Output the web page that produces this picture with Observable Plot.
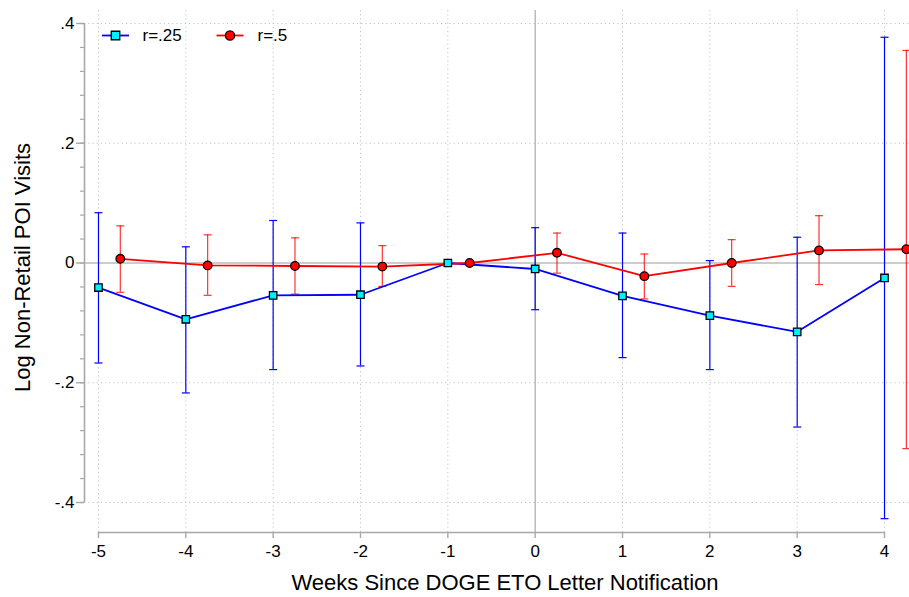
<!DOCTYPE html>
<html>
<head>
<meta charset="utf-8">
<script src="https://cdn.jsdelivr.net/npm/d3@7"></script>
<script src="https://cdn.jsdelivr.net/npm/@observablehq/plot@0.6"></script>
<style>
  body { margin: 0; background: #fff; }
  #chart { width: 909px; height: 597px; }
</style>
</head>
<body>
<div id="chart"></div>
<script>
// ---- data ----
const weeks = [-5, -4, -3, -2, -1, 0, 1, 2, 3, 4];
const r25   = [-0.041, -0.094, -0.054, -0.053, 0, -0.010, -0.055, -0.088, -0.115, -0.025];
const r25Lo = [-0.167, -0.217, -0.178, -0.172, null, -0.078, -0.158, -0.178, -0.274, -0.427];
const r25Hi = [0.084, 0.027, 0.071, 0.067, null, 0.059, 0.050, 0.004, 0.043, 0.377];
const r5    = [0.007, -0.004, -0.005, -0.006, 0, 0.017, -0.022, 0.000, 0.021, 0.023];
const r5Lo  = [-0.049, -0.054, -0.052, -0.039, null, -0.017, -0.060, -0.039, -0.036, -0.310];
const r5Hi  = [0.062, 0.047, 0.042, 0.029, null, 0.050, 0.015, 0.039, 0.079, 0.355];
const seriesNames = ["r=.25", "r=.5"];
const yTicks = [0.4, 0.2, 0, -0.2, -0.4];
const yTickLabels = [".4", ".2", "0", "-.2", "-.4"];
const yMinorTicks = d3.range(-0.4, 0.4001, 0.04).map(v => +v.toFixed(2));
const xTitle = "Weeks Since DOGE ETO Letter Notification";
const yTitle = "Log Non-Retail POI Visits";

// ---- layout / style ----
const redShift = 0.25;
const xDomain = [-5.16, 4.286];
const yDomain = [-0.4501, 0.4217];
const BLUE = "#0000ff", RED = "#ff0000", CYAN = "#00f0ff";
const AXIS = "#a8a8a8", GRID = "#c4c4c4";
const FONT = "'Liberation Sans', Arial, Helvetica, sans-serif";

const blue = weeks.map((w, i) => ({x: w, y: r25[i], lo: r25Lo[i], hi: r25Hi[i]}));
const red  = weeks.map((w, i) => ({x: w + redShift, y: r5[i], lo: r5Lo[i], hi: r5Hi[i]}));
const blueCI = blue.filter(d => d.lo != null);
const redCI  = red.filter(d => d.lo != null);

// horizontal segment symbol (for caps and legend lines)
const hSeg = w => ({draw(ctx) { ctx.moveTo(-w / 2, 0); ctx.lineTo(w / 2, 0); }});

const yFmt = d => yTickLabels[yTicks.indexOf(d)];

const chart = Plot.plot({
  width: 909, height: 597,
  marginLeft: 84, marginRight: 0, marginTop: 10, marginBottom: 65,
  style: {fontFamily: FONT, fontSize: "17px", background: "#fff", color: "#000", overflow: "visible"},
  x: {domain: xDomain},
  y: {domain: yDomain},
  marks: [
    // grid
    Plot.ruleY(yTicks.filter(v => v !== 0), {stroke: GRID, strokeDasharray: "1.2,3"}),
    Plot.ruleX(weeks.filter(v => v !== 0), {stroke: GRID, strokeDasharray: "1.2,3"}),
    Plot.ruleY([0], {stroke: "#999", strokeWidth: 1.1}),
    Plot.ruleX([0], {stroke: "#999", strokeWidth: 1}),
    // axis lines
    Plot.ruleX([xDomain[0]], {y1: d3.min(yTicks), y2: d3.max(yTicks), stroke: AXIS, strokeWidth: 1.6}),
    Plot.ruleY([yDomain[0]], {x1: d3.min(weeks), x2: d3.max(weeks), stroke: AXIS, strokeWidth: 1.6}),
    // axes
    Plot.axisY(yMinorTicks, {tickSize: 4, tickFormat: () => "", stroke: AXIS, strokeWidth: 1.2, label: null}),
    Plot.axisY(yTicks, {tickSize: 8, tickPadding: 2, tickFormat: yFmt, stroke: AXIS, strokeWidth: 1.4, fontSize: 17, label: null}),
    Plot.axisX(weeks, {tickSize: 6, tickPadding: 6, tickFormat: d => String(d), stroke: AXIS, strokeWidth: 1.4, fontSize: 17, label: null}),
    Plot.text([yTitle], {frameAnchor: "left", textAnchor: "middle", lineAnchor: "middle", rotate: -90, dx: -62, dy: -4, fontSize: 22, fill: "#000"}),
    Plot.text([xTitle], {frameAnchor: "bottom", textAnchor: "middle", lineAnchor: "middle", dx: 8, dy: 50, fontSize: 22, fill: "#000"}),
    // confidence intervals
    Plot.ruleX(blueCI, {x: "x", y1: "lo", y2: "hi", stroke: BLUE, strokeWidth: 1.2}),
    Plot.dot(blueCI, {x: "x", y: "lo", symbol: hSeg(8), fill: "none", stroke: BLUE, strokeWidth: 1.2}),
    Plot.dot(blueCI, {x: "x", y: "hi", symbol: hSeg(8), fill: "none", stroke: BLUE, strokeWidth: 1.2}),
    Plot.ruleX(redCI, {x: "x", y1: "lo", y2: "hi", stroke: RED, strokeOpacity: 0.8, strokeWidth: 1.2}),
    Plot.dot(redCI, {x: "x", y: "lo", symbol: hSeg(8), fill: "none", stroke: RED, strokeOpacity: 0.8, strokeWidth: 1.2}),
    Plot.dot(redCI, {x: "x", y: "hi", symbol: hSeg(8), fill: "none", stroke: RED, strokeOpacity: 0.8, strokeWidth: 1.2}),
    // lines
    Plot.line(blue, {x: "x", y: "y", stroke: BLUE, strokeWidth: 1.8}),
    Plot.line(red, {x: "x", y: "y", stroke: RED, strokeWidth: 1.8}),
    // markers
    Plot.dot(blue, {x: "x", y: "y", symbol: "square", r: 4.2, fill: CYAN, stroke: "#000", strokeWidth: 1.3}),
    Plot.dot(red, {x: "x", y: "y", symbol: "circle", r: 4.3, fill: RED, stroke: "#000", strokeWidth: 1.3}),
    // legend
    Plot.dot([0], {frameAnchor: "top-left", dx: 31, dy: 25, symbol: hSeg(27), fill: "none", stroke: BLUE, strokeWidth: 1.8}),
    Plot.dot([0], {frameAnchor: "top-left", dx: 31, dy: 25, symbol: "square", r: 4.8, fill: CYAN, stroke: "#000", strokeWidth: 1.3}),
    Plot.text([seriesNames[0]], {frameAnchor: "top-left", dx: 58, dy: 25, textAnchor: "start", lineAnchor: "middle", fontSize: 17, fill: "#000"}),
    Plot.dot([0], {frameAnchor: "top-left", dx: 145.5, dy: 25, symbol: hSeg(27), fill: "none", stroke: RED, strokeWidth: 1.8}),
    Plot.dot([0], {frameAnchor: "top-left", dx: 145.5, dy: 25, symbol: "circle", r: 4.6, fill: RED, stroke: "#000", strokeWidth: 1.3}),
    Plot.text([seriesNames[1]], {frameAnchor: "top-left", dx: 173, dy: 25, textAnchor: "start", lineAnchor: "middle", fontSize: 17, fill: "#000"})
  ]
});
document.getElementById("chart").appendChild(chart);
</script>
</body>
</html>
